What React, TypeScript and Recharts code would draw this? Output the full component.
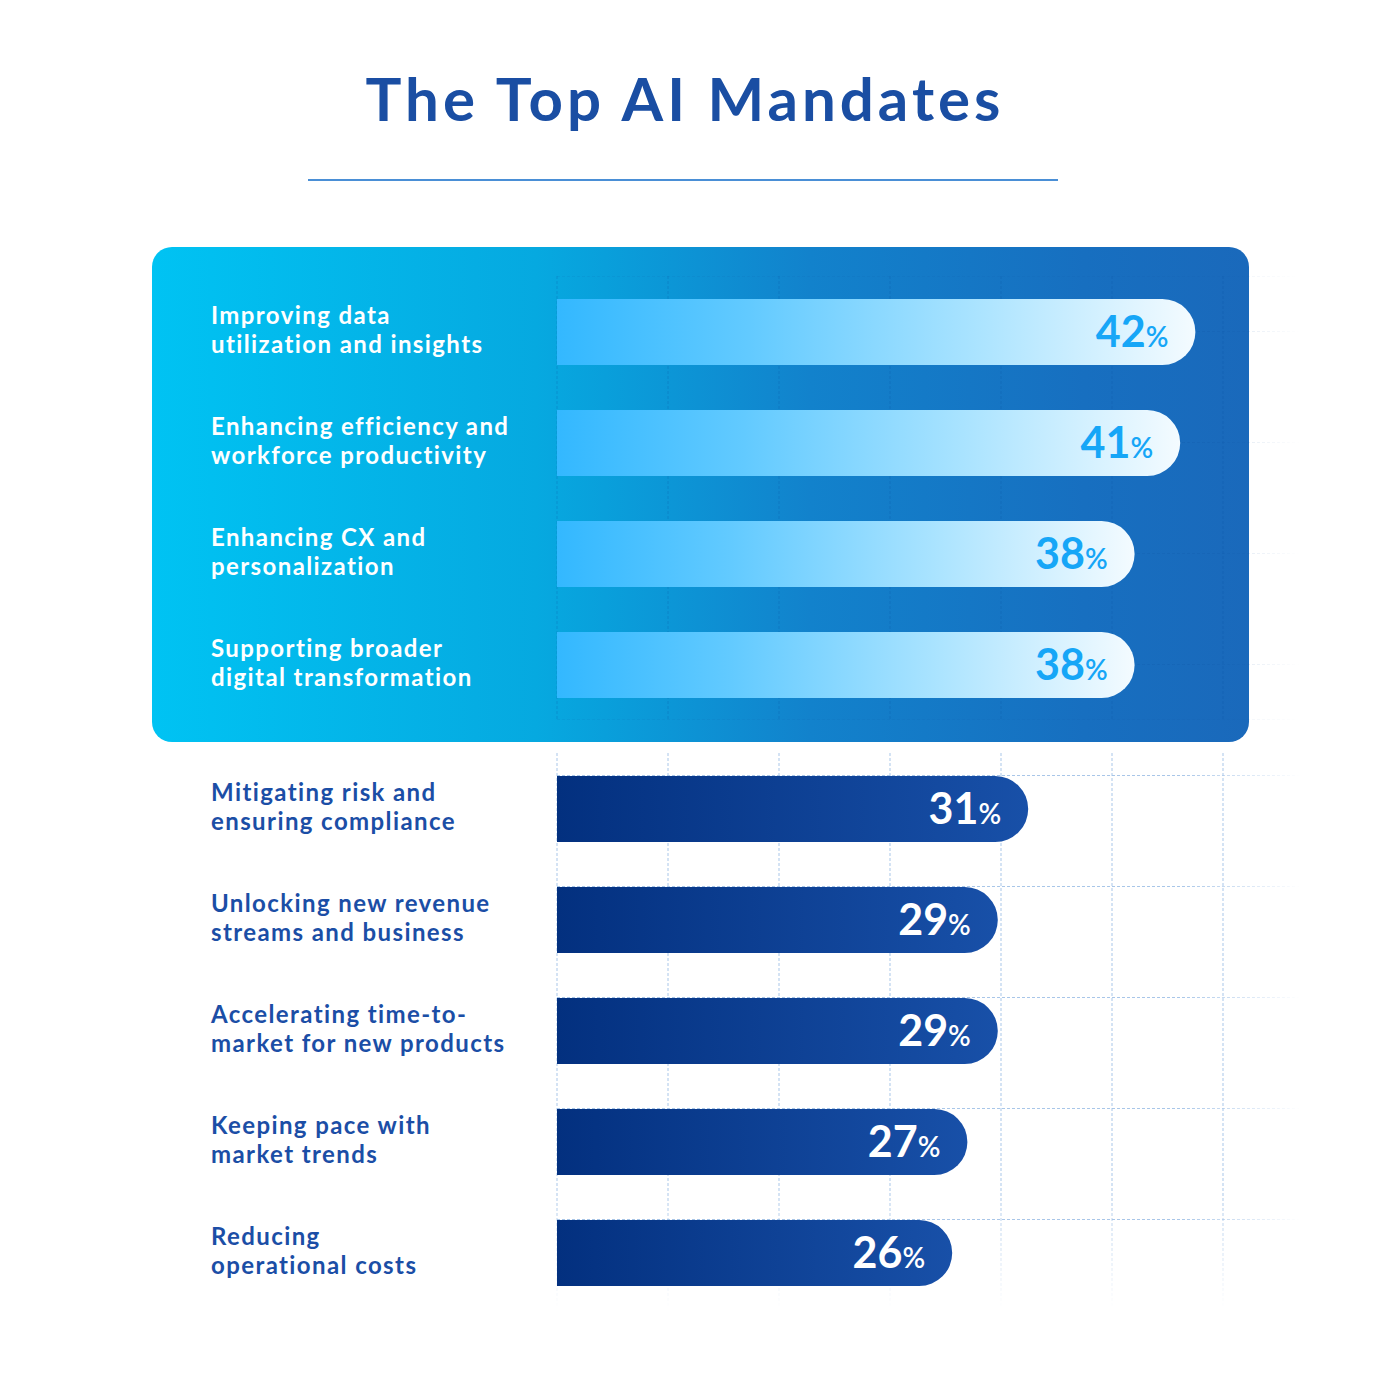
import React from 'react';
import { BarChart, Bar, XAxis, YAxis, CartesianGrid, LabelList } from 'recharts';

const topCategories = [
  'Improving data\nutilization and insights',
  'Enhancing efficiency and\nworkforce productivity',
  'Enhancing CX and\npersonalization',
  'Supporting broader\ndigital transformation',
];
const topValues = [42, 41, 38, 38];

const bottomCategories = [
  'Mitigating risk and\nensuring compliance',
  'Unlocking new revenue\nstreams and business',
  'Accelerating time-to-\nmarket for new products',
  'Keeping pace with\nmarket trends',
  'Reducing\noperational costs',
];
const bottomValues = [31, 29, 29, 27, 26];

const topData = topCategories.map((name, i) => ({ name, value: topValues[i] }));
const bottomData = bottomCategories.map((name, i) => ({ name, value: bottomValues[i] }));

const FONT = 'Lato, "Open Sans", sans-serif';
const WIDTH = 1400;
const PLOT_LEFT = 557;
const PLOT_RIGHT = 1317;
const ROW = 111;
const BAR = 66;
const LABEL_X = 211;
const GRID_X = Array.from({ length: 7 }, (_, i) => PLOT_LEFT + i * ROW);

const CategoryTick = ({ y, payload, color }: any) => {
  const lines = String(payload.value).split('\n');
  return (
    <text x={LABEL_X} y={y} fill={color} fontFamily={FONT} fontSize={24} fontWeight={700} letterSpacing={1.4} textAnchor="start">
      {lines.map((line, i) => (
        <tspan key={i} x={LABEL_X} dy={i === 0 ? -8 : 29}>
          {line}
        </tspan>
      ))}
    </text>
  );
};

const ValueLabel = ({ x, y, width, height, value, color }: any) => (
  <text
    x={x + width - 27}
    y={y + height / 2 + 15}
    fill={color}
    fontFamily={FONT}
    fontWeight={700}
    textAnchor="end"
  >
    <tspan fontSize={43}>{value}</tspan>
    <tspan fontSize={28} fontWeight={600}>%</tspan>
  </text>
);

const App = () => {
  return (
    <div style={{ position: 'absolute', left: 0, top: 0, width: 1400, height: 1400, background: '#fff', overflow: 'hidden' }}>
      <div
        style={{
          position: 'absolute',
          left: 0,
          width: 1370,
          top: 62,
          textAlign: 'center',
          fontFamily: FONT,
          fontWeight: 700,
          fontSize: 60,
          color: '#1a4ea3',
          letterSpacing: 4,
        }}
      >
        The Top AI Mandates
      </div>
      <div style={{ position: 'absolute', left: 308, top: 179, width: 750, height: 2, background: '#4a8fd6' }} />

      <div
        style={{
          position: 'absolute',
          left: 152,
          top: 247,
          width: 1097,
          height: 495,
          borderRadius: 20,
          background: 'linear-gradient(90deg, #00c3f3 0%, #06a9e0 35%, #1282cc 60%, #176fc0 85%, #1a69bb 100%)',
        }}
      />

      <div style={{ position: 'absolute', left: 0, top: 276 }}>
        <BarChart width={WIDTH} height={ROW * topData.length} data={topData} layout="vertical" margin={{ top: 0, right: WIDTH - PLOT_RIGHT, bottom: 0, left: 0 }}>
          <defs>
            <linearGradient id="topBar" x1="0" y1="0" x2="1" y2="0">
              <stop offset="0%" stopColor="#33b8ff" />
              <stop offset="30%" stopColor="#62caff" />
              <stop offset="65%" stopColor="#a9e3ff" />
              <stop offset="100%" stopColor="#f4fbff" />
            </linearGradient>
            <linearGradient id="topGridH" gradientUnits="userSpaceOnUse" x1="1200" y1="0" x2="1300" y2="0">
              <stop offset="0%" stopColor="#0b4fa0" stopOpacity={0.18} />
              <stop offset="100%" stopColor="#0b4fa0" stopOpacity={0} />
            </linearGradient>
          </defs>
          <CartesianGrid horizontal={false} verticalPoints={GRID_X} stroke="#0b4fa0" strokeOpacity={0.25} strokeDasharray="3 2" />
          <CartesianGrid vertical={false} stroke="url(#topGridH)" strokeDasharray="3 2" />
          <XAxis type="number" domain={[0, 50]} hide />
          <YAxis
            type="category"
            dataKey="name"
            width={PLOT_LEFT}
            axisLine={false}
            tickLine={false}
            tick={<CategoryTick color="#ffffff" />}
          />
          <Bar dataKey="value" fill="url(#topBar)" barSize={BAR} radius={[0, BAR / 2, BAR / 2, 0]} isAnimationActive={false}>
            <LabelList dataKey="value" content={<ValueLabel color="#16a6f7" />} />
          </Bar>
        </BarChart>
      </div>

      <div style={{ position: 'absolute', left: 0, top: 753 }}>
        <BarChart width={WIDTH} height={ROW * bottomData.length} data={bottomData} layout="vertical" margin={{ top: 0, right: WIDTH - PLOT_RIGHT, bottom: 0, left: 0 }}>
          <defs>
            <linearGradient id="bottomBar" x1="0" y1="0" x2="1" y2="0">
              <stop offset="0%" stopColor="#03307f" />
              <stop offset="100%" stopColor="#1850a8" />
            </linearGradient>
            <linearGradient id="gridV" gradientUnits="userSpaceOnUse" x1="0" y1="440" x2="0" y2="555">
              <stop offset="0%" stopColor="#9fc0e6" stopOpacity={0.9} />
              <stop offset="100%" stopColor="#9fc0e6" stopOpacity={0} />
            </linearGradient>
            <linearGradient id="gridH" gradientUnits="userSpaceOnUse" x1="1180" y1="0" x2="1300" y2="0">
              <stop offset="0%" stopColor="#9fc0e6" stopOpacity={0.9} />
              <stop offset="100%" stopColor="#9fc0e6" stopOpacity={0} />
            </linearGradient>
          </defs>
          <CartesianGrid horizontal={false} verticalPoints={GRID_X} stroke="url(#gridV)" strokeDasharray="3 2" />
          <CartesianGrid
            vertical={false}
            horizontalPoints={bottomData.map((_, i) => i * ROW + (ROW - BAR) / 2)}
            stroke="url(#gridH)"
            strokeDasharray="3 2"
          />
          <XAxis type="number" domain={[0, 50]} hide />
          <YAxis
            type="category"
            dataKey="name"
            width={PLOT_LEFT}
            axisLine={false}
            tickLine={false}
            tick={<CategoryTick color="#1b4ea6" />}
          />
          <Bar dataKey="value" fill="url(#bottomBar)" barSize={BAR} radius={[0, BAR / 2, BAR / 2, 0]} isAnimationActive={false}>
            <LabelList dataKey="value" content={<ValueLabel color="#ffffff" />} />
          </Bar>
        </BarChart>
      </div>
    </div>
  );
};

export default App;
